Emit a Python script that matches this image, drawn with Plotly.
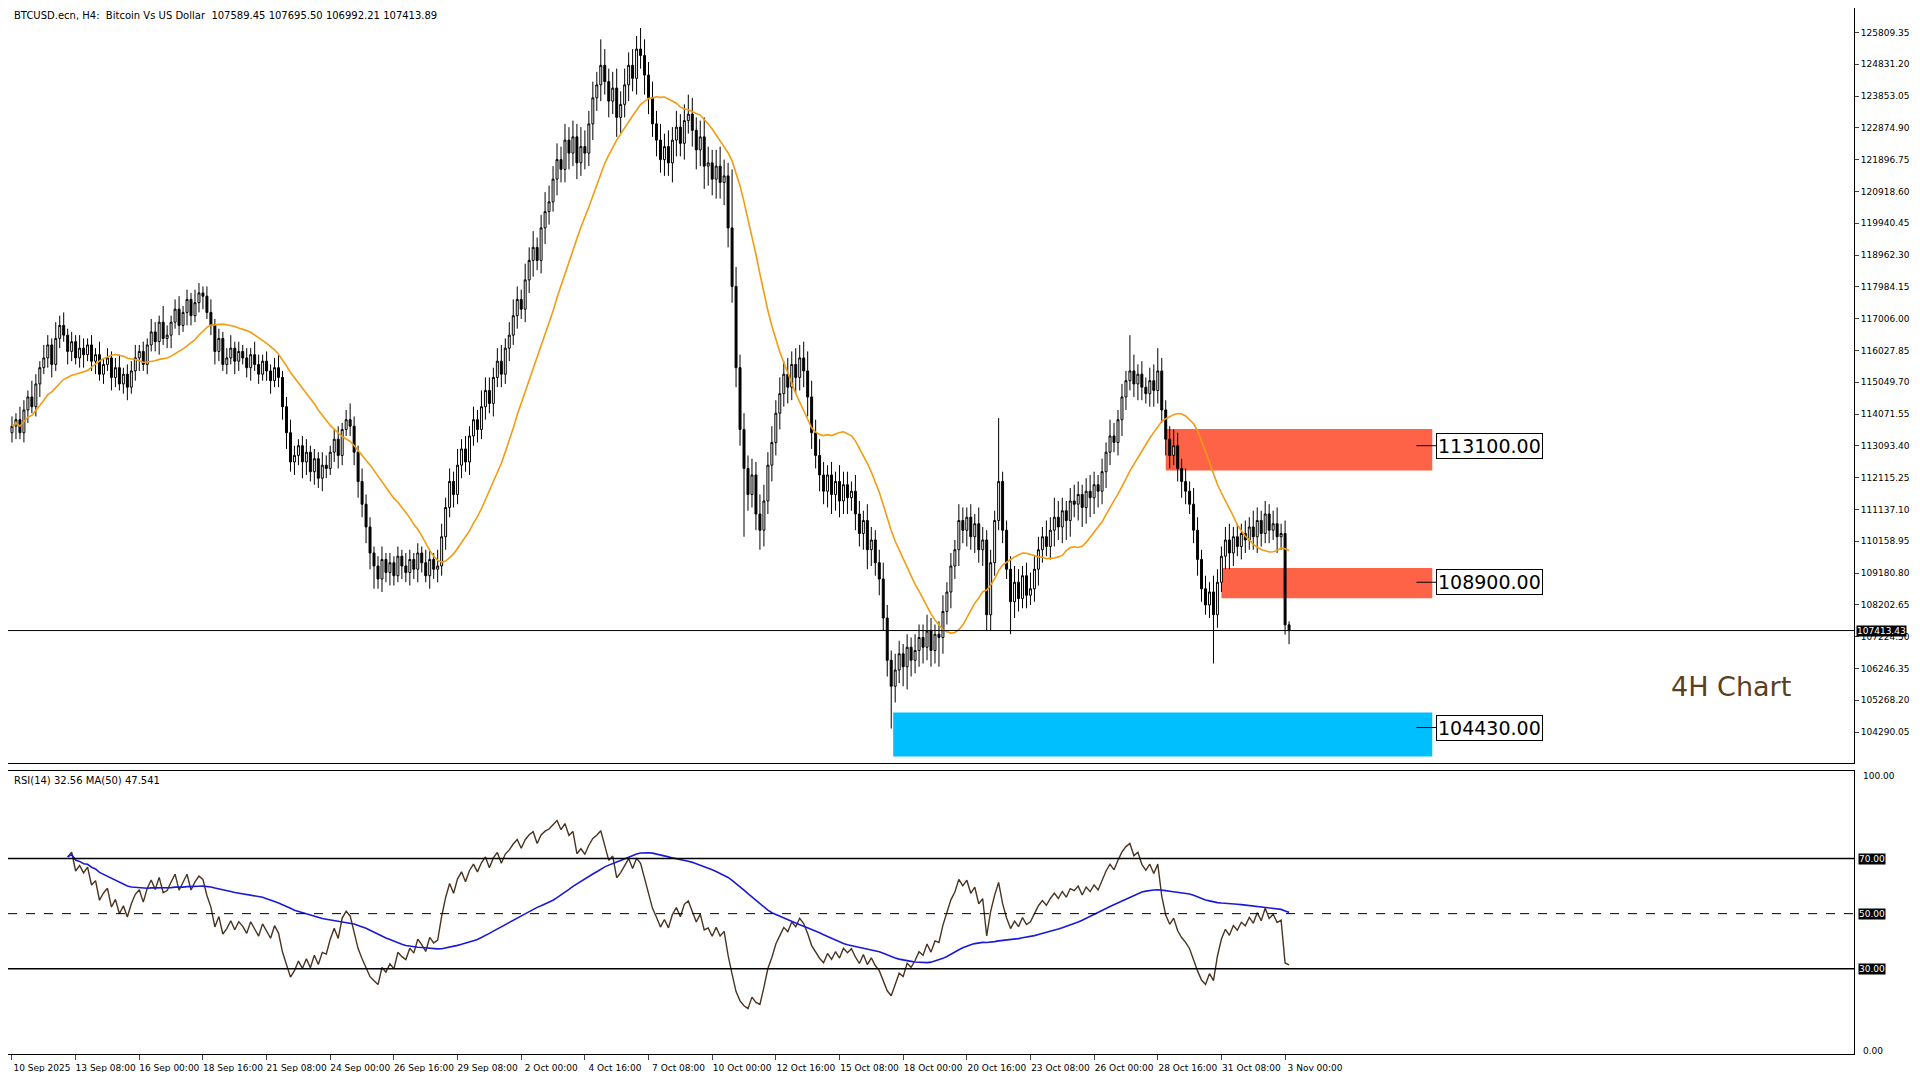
import plotly.graph_objects as go
import pandas as pd

# closes in thousands of USD, one H4 bar each, from 10 Sep 16:00
closes = [
    113.7,113.9,113.5,114.2,114.6,114.3,115.0,115.5,115.8,
    116.2,115.6,116.4,116.8,116.5,
    116.0,116.3,115.8,116.1,115.9,116.2,115.7,115.9,115.3,115.6,115.8,115.2,115.5,115.0,115.3,114.9,115.4,
    115.8,116.0,115.6,116.2,116.6,116.3,116.9,116.4,116.5,
    116.9,117.3,116.8,117.2,117.6,117.1,117.5,117.8,117.7,
    117.2,116.8,116.0,116.4,115.6,115.8,
    116.1,115.7,116.0,115.8,115.5,115.9,115.6,115.3,115.7,115.4,115.1,115.5,115.2,
    114.3,113.5,112.6,112.8,
    113.1,112.6,112.9,112.3,112.7,112.1,112.5,112.4,
    112.9,113.3,112.8,113.6,113.9,113.7,
    112.9,112.0,111.3,110.6,109.8,109.4,
    109.0,109.6,109.2,109.5,109.1,109.7,109.4,109.2,109.6,109.3,109.8,109.5,109.1,109.6,109.3,109.4,
    110.3,111.2,112.0,
    111.6,112.5,113.0,112.6,113.4,113.9,113.6,114.3,
    114.8,114.4,115.2,115.7,115.3,116.1,116.5,
    117.1,117.6,117.3,118.2,118.8,
    119.2,118.8,119.8,120.3,120.6,
    121.3,121.9,121.6,122.5,
    122.1,122.6,121.8,122.3,122.1,
    123.0,123.8,124.2,124.8,
    124.3,123.7,124.1,123.2,123.6,
    124.2,124.8,124.4,125.3,125.1,
    124.5,123.8,123.0,122.5,
    121.9,122.3,121.8,
    122.5,122.9,122.4,123.1,123.3,
    122.8,122.2,122.6,121.7,121.8,
    121.3,121.7,121.2,121.4,
    119.8,118.0,115.5,113.6,112.4,
    111.6,112.2,111.0,110.5,
    111.4,112.5,113.2,114.1,114.7,
    115.3,114.9,115.6,115.2,115.8,115.4,
    114.6,113.5,112.8,112.2,111.7,
    112.2,111.6,112.0,111.4,111.9,111.5,111.7,
    111.0,110.4,110.8,109.9,110.2,109.5,109.0,
    107.8,106.5,105.7,
    106.2,106.7,106.3,106.9,106.5,106.8,
    107.2,106.9,107.4,106.8,107.3,107.2,
    108.0,108.6,109.4,109.9,110.8,110.5,
    110.9,110.3,110.7,109.9,110.2,
    107.9,
    109.5,110.8,112.0,
    110.5,109.3,108.3,
    108.9,108.4,109.1,108.5,108.7,
    109.3,109.9,110.3,110.0,110.5,
    110.9,110.6,111.1,110.8,111.4,111.3,
    111.6,111.2,111.7,111.5,111.9,111.7,
    112.3,112.9,113.4,113.2,113.9,
    114.6,115.1,115.4,
    115.0,115.3,114.9,114.7,
    115.1,114.8,115.4,
    114.2,113.3,112.8,
    113.1,112.4,112.0,111.7,111.3,
    110.5,109.6,108.7,
    108.2,108.6,107.9,
    108.9,109.7,110.2,
    109.8,110.3,110.0,110.4,110.2,
    110.6,110.3,110.8,110.4,111.0,110.5,
    110.7,110.3,110.4,107.58945,
    107.41389,
]
first_open = 113.5

# upper / lower wicks in hundreds of USD
hi_wick = [
    3,2,4,3,2,5,3,2,4,3, 2,5,3,4,2,3,2,4,3,2, 3,2,4,2,3,2,3,4,2,3,
    3,4,2,3,2,4,3,2,5,3, 2,3,4,2,3,2,4,3,2,3, 4,2,3,2,3,4,2,3,2,3,
    2,4,3,2,3,2,3,4,2,3, 4,3,2,3,4,2,3,2,4,3, 2,3,4,2,3,5,3,2,4,3,
    3,2,3,4,2,3,2,3,2,4, 3,2,3,2,4,3,2,5,4,3, 4,3,5,3,4,3,4,3,5,4,
    4,3,4,5,3,4,5,4,3,5, 4,5,3,4,6,5,4,5,4,5, 4,5,4,6,5,4,5,4,8,5,
    4,5,6,4,5,4,5,4,6,5, 4,5,4,5,4,5,4,5,4,5, 6,5,4,5,6,5,4,5,6,5,
    4,5,6,4,5,4,5,4,6,5, 4,5,4,5,4,5,4,5,4,5, 6,5,4,5,4,3,4,3,5,4,
    4,3,5,4,3,5,4,3,4,5, 4,3,5,4,3,4,3,5,4,4, 5,4,3,4,5,3,4,3,5,4,
    3,4,3,5,4,3,4,3,4,3, 3,4,5,4,3,4,5,4,4,3, 5,4,6,5,4,3,4,5,4,3,
    4,5,4,3,4,3,5,4,3,4, 3,4,5,3,4,3,4,5,3,4, 3,4,5,4,3,4,3,5,4,3,
    4,3,5,4,3,4,5,3,4,3, 4,3,5,4,3,4,3,4,5,3, 4,3,
]
lo_wick = [
    3,4,2,3,4,2,3,4,2,3, 4,2,3,2,4,3,2,3,4,2, 3,4,2,3,2,4,3,2,3,4,
    2,3,4,2,3,2,3,4,2,3, 4,2,3,2,4,3,2,3,4,2, 3,4,3,2,3,2,4,3,2,3,
    4,2,3,2,3,4,2,3,4,5, 3,4,3,5,4,3,4,3,4,3, 2,3,4,3,2,3,4,5,4,5,
    5,4,3,4,3,4,3,2,4,3, 4,3,4,3,2,4,3,4,3,4, 3,4,3,4,3,4,3,4,3,4,
    3,4,3,4,3,4,3,4,3,4, 4,5,3,4,5,4,3,5,4,4, 5,4,5,4,5,4,5,4,5,4,
    5,4,6,5,4,5,4,5,4,6, 5,4,5,4,5,4,6,5,4,5, 4,5,6,5,7,6,5,6,5,7,
    6,5,6,5,4,5,4,5,6,5, 4,5,4,5,4,5,4,5,4,5, 6,5,4,5,4,5,6,5,5,4,
    5,4,5,4,5,6,5,4,5,4, 5,4,5,4,6,7,5,4,5,5, 4,5,4,6,5,4,5,4,5,4,
    5,4,5,4,5,4,5,4,3,4, 3,4,5,4,3,4,3,4,5,4, 3,4,5,4,5,6,5,4,5,6,
    5,6,5,5,4,5,4,3,4,5, 4,3,4,5,4,3,4,5,4,4, 5,4,3,4,5,4,3,4,5,4,
    3,4,5,4,3,4,5,4,3,4, 4,3,4,5,4,3,4,3,5,4, 3,4,
]
# notable extremes (bar index: high or low, USD)
big_highs = {158: 125950, 181: 121600, 199: 116200, 248: 113950, 281: 116500, 288: 116100, 315: 111250}
big_lows = {91: 108700, 184: 110300, 221: 104400, 233: 106300, 245: 107400, 251: 107300, 302: 106400}

tick_idx = list(range(0, 321, 16))
tick_text = ["10 Sep 2025", "13 Sep 08:00", "16 Sep 00:00", "18 Sep 16:00", "21 Sep 08:00",
             "24 Sep 00:00", "26 Sep 16:00", "29 Sep 08:00", "2 Oct 00:00", "4 Oct 16:00",
             "7 Oct 08:00", "10 Oct 00:00", "12 Oct 16:00", "15 Oct 08:00", "18 Oct 00:00",
             "20 Oct 16:00", "23 Oct 08:00", "26 Oct 00:00", "28 Oct 16:00", "31 Oct 08:00",
             "3 Nov 00:00"]
price_ticks = [104290.05, 105268.20, 106246.35, 107224.50, 108202.65, 109180.80, 110158.95,
               111137.10, 112115.25, 113093.40, 114071.55, 115049.70, 116027.85, 117006.00,
               117984.15, 118962.30, 119940.45, 120918.60, 121896.75, 122874.90, 123853.05,
               124831.20, 125809.35]

# zones: (label price, top, bottom, start bar, colour)
zones = [
    (113100.00, 113610, 112340, 290, "#ff6347"),
    (108900.00, 109340, 108410, 304, "#ff6347"),
    (104430.00, 104890, 103540, 221.5, "#00bfff"),
]
zone_end = 357
last_price = 107413.43

n = len(closes)
df = pd.DataFrame({"close": [c * 1000 for c in closes]})
df["open"] = [first_open * 1000] + list(df["close"][:-1])
df["high"] = df[["open", "close"]].max(axis=1) + [w * 100 for w in hi_wick[:n]]
df["low"] = df[["open", "close"]].min(axis=1) - [w * 100 for w in lo_wick[:n]]
for i, v in big_highs.items():
    df.loc[i, "high"] = max(v, df.loc[i, "high"])
for i, v in big_lows.items():
    df.loc[i, "low"] = min(v, df.loc[i, "low"])
df.loc[n - 1, ["open", "high", "low", "close"]] = [107589.45, 107695.50, 106992.21, 107413.89]
df["ma"] = df["close"].rolling(20, min_periods=1).mean()

delta = df["close"].diff()
gain = delta.clip(lower=0).ewm(alpha=1 / 14, adjust=False).mean()
loss = (-delta.clip(upper=0)).ewm(alpha=1 / 14, adjust=False).mean()
df["rsi"] = 100 - 100 / (1 + gain / loss)
df.loc[:13, "rsi"] = None
df["rsi_ma"] = df["rsi"].rolling(50, min_periods=1).mean()

x = list(range(n))
fig = go.Figure()
fig.add_trace(go.Candlestick(
    x=x, open=df["open"], high=df["high"], low=df["low"], close=df["close"],
    increasing=dict(line=dict(color="black", width=1), fillcolor="white"),
    decreasing=dict(line=dict(color="black", width=1), fillcolor="black"),
    whiskerwidth=0, xaxis="x", yaxis="y", hoverinfo="skip"))
fig.add_trace(go.Scatter(x=x, y=df["ma"], mode="lines", line=dict(color="#f39c12", width=1.6),
                         xaxis="x", yaxis="y"))
fig.add_trace(go.Scatter(x=x, y=df["rsi"], mode="lines", line=dict(color="#4a3420", width=1.4),
                         xaxis="x2", yaxis="y2"))
fig.add_trace(go.Scatter(x=x, y=df["rsi_ma"], mode="lines", line=dict(color="#1a1ad6", width=1.6),
                         xaxis="x2", yaxis="y2"))

shapes = []
annotations = []
for label, top, bot, start, col in zones:
    shapes.append(dict(type="rect", xref="x", yref="y", x0=start, x1=zone_end, y0=bot, y1=top,
                       fillcolor=col, line=dict(width=0), layer="below"))
    shapes.append(dict(type="line", xref="x", yref="y", x0=zone_end - 4, x1=zone_end + 1,
                       y0=label, y1=label, line=dict(color="black", width=1)))
    annotations.append(dict(xref="x", yref="y", x=zone_end + 1, y=label, xanchor="left",
                            text=f"{label:.2f}", showarrow=False, bgcolor="white",
                            bordercolor="black", borderwidth=1, borderpad=1,
                            font=dict(family="DejaVu Sans", size=19, color="black")))
shapes.append(dict(type="line", xref="paper", yref="y", x0=0, x1=1, y0=last_price, y1=last_price,
                   line=dict(color="black", width=1)))
for lvl, dash in [(70, "solid"), (50, "dash"), (30, "solid")]:
    shapes.append(dict(type="line", xref="paper", yref="y2", x0=0, x1=1, y0=lvl, y1=lvl,
                       line=dict(color="black", width=1.5 if dash == "solid" else 1, dash=dash)))
    annotations.append(dict(xref="paper", yref="y2", x=1.002, y=lvl, xanchor="left",
                            text=f"{lvl:.2f}", showarrow=False, bgcolor="black",
                            font=dict(family="DejaVu Sans", size=9, color="white"), borderpad=0))
for lvl in (100, 0):
    annotations.append(dict(xref="paper", yref="y2", x=1.004, y=lvl, xanchor="left",
                            text=f"{lvl:.2f}", showarrow=False,
                            font=dict(family="DejaVu Sans", size=9, color="black")))

annotations += [
    dict(xref="paper", yref="y", x=1.001, y=last_price, xanchor="left", text=f"{last_price:.2f}",
         showarrow=False, bgcolor="black", borderpad=0,
         font=dict(family="DejaVu Sans", size=9, color="white")),
    dict(xref="paper", yref="paper", x=0.002, y=1, xanchor="left", yanchor="top",
         text="BTCUSD.ecn, H4:  Bitcoin Vs US Dollar  107589.45 107695.50 106992.21 107413.89",
         showarrow=False, font=dict(family="DejaVu Sans", size=10, color="black")),
    dict(xref="paper", yref="paper", x=0.002, y=0.269, xanchor="left", yanchor="top",
         text="RSI(14) 32.56 MA(50) 47.541", showarrow=False,
         font=dict(family="DejaVu Sans", size=10, color="black")),
    dict(xref="x", yref="y", x=432, y=105700, text="4H Chart", showarrow=False,
         font=dict(family="DejaVu Sans", size=27, color="#5a4020")),
]

xr = [-1, 463]
fig.update_layout(
    width=1904, height=1064, paper_bgcolor="white", plot_bgcolor="white", showlegend=False,
    margin=dict(l=0, r=58, t=0, b=18, autoexpand=False),
    font=dict(family="DejaVu Sans", size=10, color="black"),
    xaxis=dict(domain=[0, 1], anchor="y", range=xr, showticklabels=False, showgrid=False,
               rangeslider=dict(visible=False), showline=True, mirror=True, linecolor="black",
               zeroline=False),
    yaxis=dict(domain=[0.278, 1], side="right", range=[103333, 126564], tickvals=price_ticks,
               ticktext=[f"{v:.2f}" for v in price_ticks], ticks="outside", ticklen=4,
               showgrid=False, showline=True, mirror=True, linecolor="black", zeroline=False,
               tickfont=dict(size=9)),
    xaxis2=dict(domain=[0, 1], anchor="y2", range=xr, tickvals=tick_idx, ticktext=tick_text,
                ticks="outside", ticklen=5, showgrid=False, showline=True, mirror=True,
                linecolor="black", zeroline=False, tickfont=dict(size=9), ticklabelshift=30,
                automargin=False),
    yaxis2=dict(domain=[0, 0.271], side="right", range=[-1, 102], showticklabels=False,
                showgrid=False, showline=True, mirror=True, linecolor="black", zeroline=False),
    shapes=shapes, annotations=annotations,
)
fig.write_html("out.html")
